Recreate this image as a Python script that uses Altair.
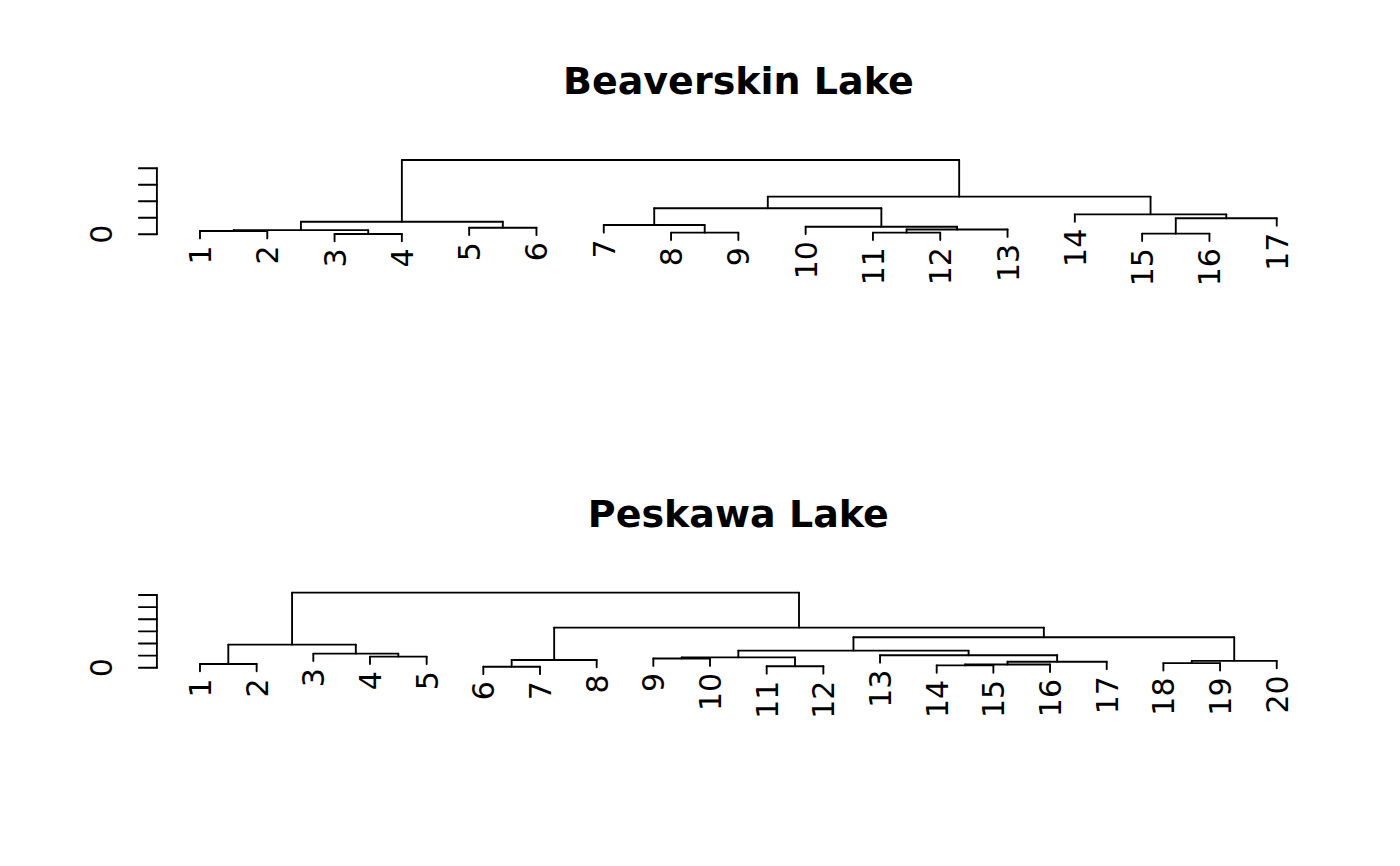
import altair as alt
import pandas as pd

# ---------------- data (R-style merge tables: negative = leaf, positive = earlier merge row) -------------
beav_title = "Beaverskin Lake"
beav_labels = [str(i) for i in range(1, 18)]
beav_left = [-3, -15, -8, -11, -1, 5, 4, -5, -10, -7, 6, 2, -14, 10, 14, 11]
beav_right = [-4, -16, -9, -12, -2, 1, -13, -6, 7, 3, 8, -17, 12, 9, 13, 15]
beav_height = [0.02, 0.04, 0.10, 0.10, 0.20, 0.25, 0.29, 0.40, 0.46, 0.56, 0.76, 0.97, 1.21, 1.58, 2.28, 4.50]
beav_ticks = [0, 1, 2, 3, 4]

pesk_title = "Peskawa Lake"
pesk_labels = [str(i) for i in range(1, 21)]
pesk_left = [-6, -11, -14, 3, -1, -18, 4, 6, 1, -9, 10, -4, -13, -3, 11, 5, 15, 9, 16]
pesk_right = [-7, -12, -15, -16, -2, -19, -17, -20, -8, -10, 2, -5, 7, 12, 13, 14, 8, 17, 18]
pesk_height = [0.08, 0.12, 0.19, 0.26, 0.31, 0.38, 0.49, 0.56, 0.64, 0.76, 0.85, 0.91, 1.03, 1.16, 1.41,
               1.90, 2.51, 3.31, 6.20]
pesk_ticks = [0, 1, 2, 3, 4, 5, 6]

# ---------------- style / layout ----------------
FONT = "DejaVu Sans"
LW = 1.875
PANEL_W = 1380
PANEL_H = 430
X_RANGE = [156.9, 1319.8]      # R plot region (pixels)
TICK_PX = 18.0


def dendro(left, right, heights, labels):
    hang = 0.1 * (max(heights) - min(heights))
    node_x, node_h = {}, {}
    segs, leaves = [], []
    for r, (a, b, h) in enumerate(zip(left, right, heights), start=1):
        xs = []
        for c in (a, b):
            if c < 0:
                cx = -c
                ch = h - hang
                leaves.append({"x": cx, "y": ch, "label": labels[cx - 1]})
            else:
                cx, ch = node_x[c], node_h[c]
            segs.append({"x": cx, "x2": cx, "y": ch, "y2": h})
            xs.append(cx)
        segs.append({"x": xs[0], "x2": xs[1], "y": h, "y2": h})
        node_x[r] = sum(xs) / 2.0
        node_h[r] = h
    return pd.DataFrame(segs), pd.DataFrame(leaves)


def panel(title, left, right, heights, labels, ticks, y_range, title_y):
    n = len(labels)
    ext = 0.04 * (n - 1)
    xdom = [1 - ext, n + ext]
    axis_x = xdom[0]
    units_per_px = (xdom[1] - xdom[0]) / (X_RANGE[1] - X_RANGE[0])
    xs = alt.Scale(domain=xdom, range=X_RANGE, nice=False, zero=False)
    ys = alt.Scale(domain=[ticks[0], ticks[-1]], range=y_range, nice=False, zero=False)

    seg_df, leaf_df = dendro(left, right, heights, labels)

    def X(f):
        return alt.X(f, type="quantitative", scale=xs, axis=None)

    def Y(f):
        return alt.Y(f, type="quantitative", scale=ys, axis=None)

    rules = alt.Chart(seg_df).mark_rule(color="black", strokeWidth=LW, strokeCap="round").encode(
        x=X("x"), x2="x2", y=Y("y"), y2="y2")

    leaf_text = alt.Chart(leaf_df).mark_text(
        angle=270, align="right", baseline="alphabetic", dx=-7, dy=11,
        font=FONT, fontSize=30, color="black").encode(x=X("x"), y=Y("y"), text="label:N")

    axis_df = pd.DataFrame({"x": [axis_x], "y": [ticks[0]], "y2": [ticks[-1]]})
    axis_line = alt.Chart(axis_df).mark_rule(color="black", strokeWidth=LW, strokeCap="round").encode(
        x=X("x"), y=Y("y"), y2="y2")

    tick_df = pd.DataFrame({"x": [axis_x] * len(ticks),
                            "x2": [axis_x - TICK_PX * units_per_px] * len(ticks),
                            "y": ticks})
    tick_rules = alt.Chart(tick_df).mark_rule(color="black", strokeWidth=LW, strokeCap="round").encode(
        x=X("x"), x2="x2", y=Y("y"))

    zero_df = pd.DataFrame({"x": [axis_x], "y": [ticks[0]], "t": [str(ticks[0])]})
    zero_lab = alt.Chart(zero_df).mark_text(
        angle=270, align="center", baseline="alphabetic", dy=-45,
        font=FONT, fontSize=30, color="black").encode(x=X("x"), y=Y("y"), text="t:N")

    title_df = pd.DataFrame({"x": [(n + 1) / 2.0], "t": [title]})
    title_mark = alt.Chart(title_df).mark_text(
        align="center", baseline="alphabetic", font=FONT, fontSize=38, fontWeight="bold",
        color="black").encode(x=X("x"), y=alt.value(title_y), text="t:N")

    return alt.layer(rules, leaf_text, axis_line, tick_rules, zero_lab, title_mark).properties(
        width=PANEL_W, height=PANEL_H)


top = panel(beav_title, beav_left, beav_right, beav_height, beav_labels, beav_ticks,
            [234.3, 168.3], 94)
bottom = panel(pesk_title, pesk_left, pesk_right, pesk_height, pesk_labels, pesk_ticks,
               [237.7, 165.0], 97.4)

chart = alt.vconcat(top, bottom, spacing=0, bounds="flush").properties(
    padding=0, background="white").configure_view(stroke=None)

chart.save("out.html", embed_options={"renderer": "svg", "actions": False})
